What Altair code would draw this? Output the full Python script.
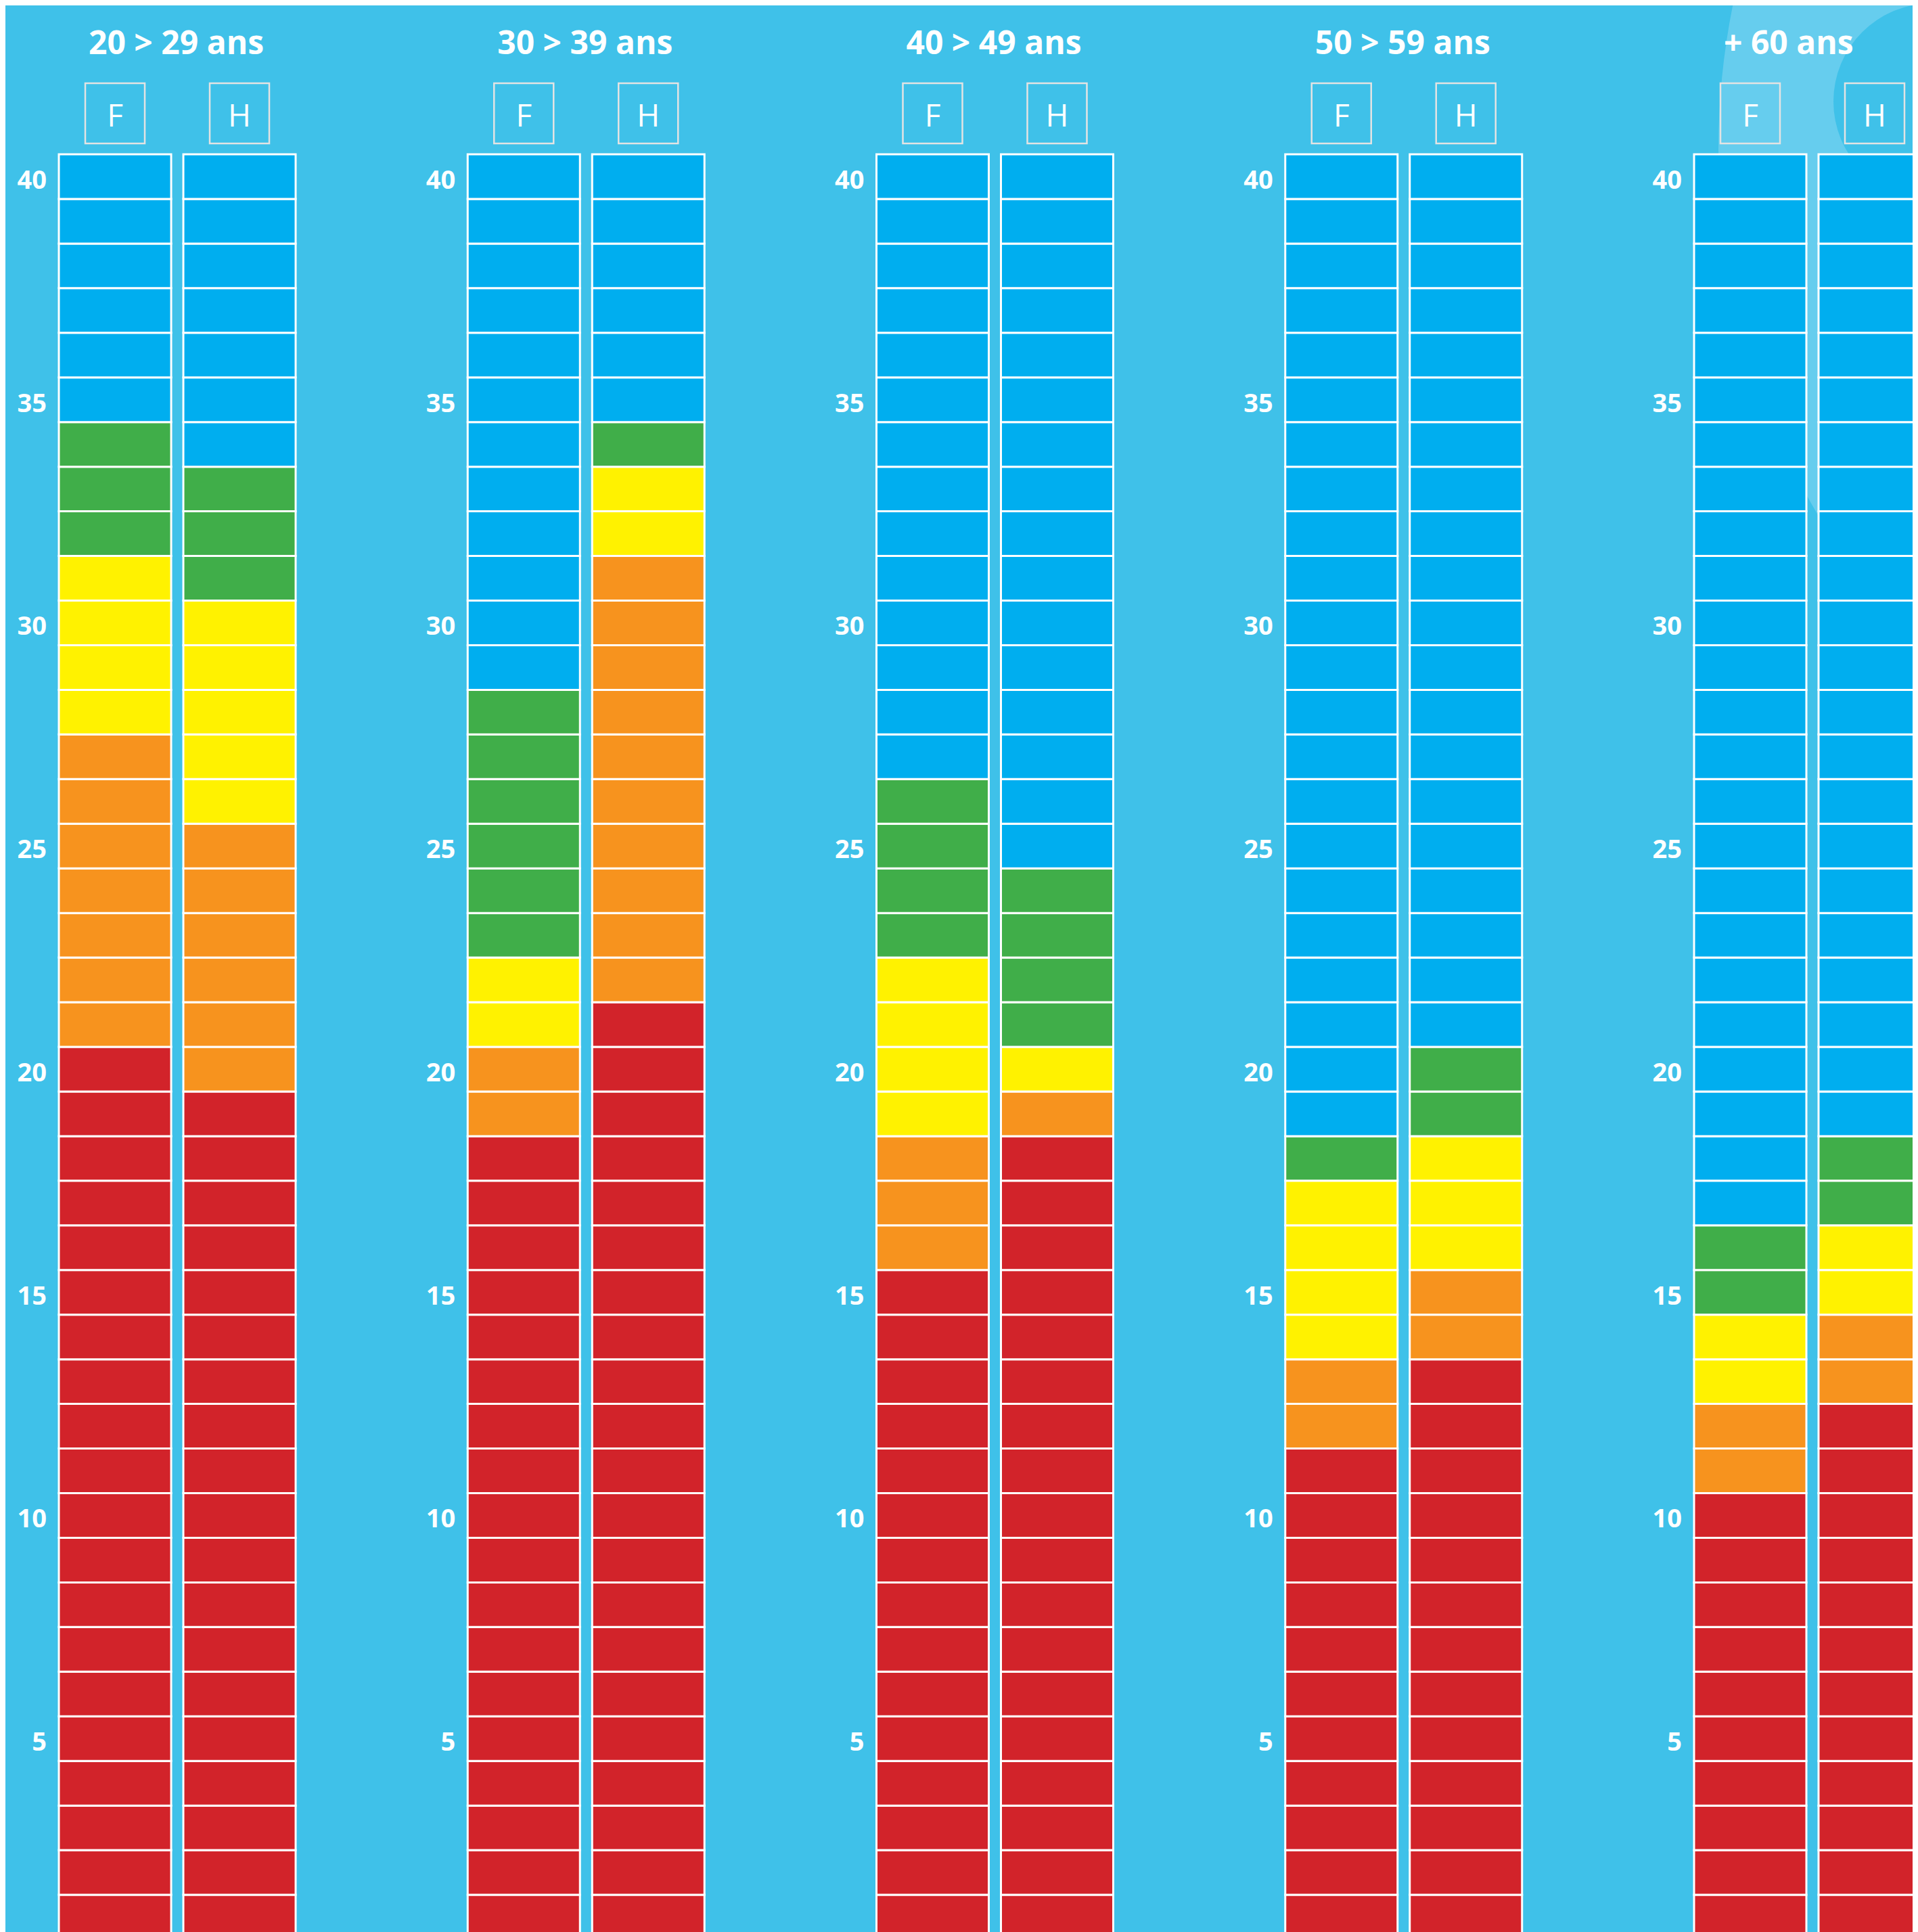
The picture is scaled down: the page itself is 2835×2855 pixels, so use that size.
import altair as alt
import pandas as pd

# ------------------------------------------------------------------ data
age_groups = ["20 > 29 ans", "30 > 39 ans", "40 > 49 ans", "50 > 59 ans", "+ 60 ans"]
sexes = ["F", "H"]
levels = ["rouge", "orange", "jaune", "vert", "bleu"]
level_colors = ["#D2232A", "#F7931E", "#FFF200", "#40AE49", "#00AEEF"]
n_cells = 40
tick_values = [5, 10, 15, 20, 25, 30, 35, 40]

# highest cell of each band (red, orange, yellow, green); blue goes up to 40
f_red = [20, 18, 15, 11, 10]
f_orange = [27, 20, 18, 13, 12]
f_yellow = [31, 22, 22, 17, 14]
f_green = [34, 28, 26, 18, 16]
h_red = [19, 21, 18, 13, 12]
h_orange = [25, 31, 19, 15, 14]
h_yellow = [30, 33, 20, 18, 16]
h_green = [33, 34, 24, 20, 18]

# ------------------------------------------------------------------ layout
BG = "#3FC1E9"
RING = "#66CDEE"
W, H = 2819, 2847            # chart size in px
GROUP_PX = 604.25            # px per x unit (one age group)
CELL_PX = 65.95              # px per y unit (one cell)
X0_PX, TOP_PX = 87 - 8, 228 - 8   # left of first column / top of column in chart px
COL_W = 166 / GROUP_PX
COL_STEP = 184 / GROUP_PX


def ux(px):
    return (px - X0_PX) / GROUP_PX


def uy(px):
    return n_cells + (TOP_PX - px) / CELL_PX


xs = alt.Scale(domain=[ux(0), ux(W)], nice=False, zero=False)
ys = alt.Scale(domain=[uy(H), uy(0)], nice=False, zero=False)

thresholds = {
    "F": list(zip(f_red, f_orange, f_yellow, f_green)),
    "H": list(zip(h_red, h_orange, h_yellow, h_green)),
}

rows = []
for g, grp in enumerate(age_groups):
    for s, sex in enumerate(sexes):
        t = thresholds[sex][g]
        for k in range(1, n_cells + 1):
            lvl = next((levels[i] for i, top in enumerate(t) if k <= top), "bleu")
            x0 = g + s * COL_STEP
            rows.append(dict(groupe=grp, sexe=sex, cell=k, niveau=lvl,
                             x0=x0, x1=x0 + COL_W, y0=k - 1, y1=k))
cells_df = pd.DataFrame(rows)

sex_rows = []
for g, grp in enumerate(age_groups):
    for s, sex in enumerate(sexes):
        xc = g + s * COL_STEP + COL_W / 2
        sex_rows.append(dict(groupe=grp, sexe=sex, xc=xc,
                             bx0=xc - 44 / GROUP_PX, bx1=xc + 44 / GROUP_PX,
                             by0=uy(212 - 8), by1=uy(123 - 8), ty=uy(187 - 8)))
sex_df = pd.DataFrame(sex_rows)

title_df = pd.DataFrame({
    "groupe": age_groups,
    "x": [g + 44 / GROUP_PX for g in range(len(age_groups))],
    "y": [uy(80 - 8)] * len(age_groups),
})

tick_df = pd.DataFrame([
    dict(groupe=grp, label=str(v), x=g - 18 / GROUP_PX, y=v - 0.77)
    for g, grp in enumerate(age_groups) for v in tick_values
])

ring_df = pd.DataFrame({
    "cx": [ux(3609 - 8), ux(2855 - 8)],
    "cy": [uy(220 - 8), uy(150 - 8)],
})

X = lambda f: alt.X(f, type="quantitative", scale=xs, axis=None)
Y = lambda f: alt.Y(f, type="quantitative", scale=ys, axis=None)

outer = alt.Chart(ring_df.iloc[[0]]).mark_arc(
    radius=1069, theta=0, theta2=6.2832, color=RING, clip=True
).encode(x=X("cx"), y=Y("cy"))

inner = alt.Chart(ring_df.iloc[[1]]).mark_arc(
    radius=145, theta=0, theta2=6.2832, color=BG, clip=True
).encode(x=X("cx"), y=Y("cy"))

cells = alt.Chart(cells_df).mark_rect(stroke="white", strokeWidth=3, clip=True).encode(
    x=X("x0"), x2="x1", y=Y("y0"), y2="y1",
    color=alt.Color("niveau:N", scale=alt.Scale(domain=levels, range=level_colors), legend=None),
)

boxes = alt.Chart(sex_df).mark_rect(filled=False, stroke="#E3E3E3", strokeWidth=2.5).encode(
    x=X("bx0"), x2="bx1", y=Y("by0"), y2="by1"
)

sex_text = alt.Chart(sex_df).mark_text(
    font="Open Sans", fontSize=46, fontWeight="normal", color="white",
    align="center", baseline="alphabetic"
).encode(x=X("xc"), y=Y("ty"), text="sexe:N")

titles = alt.Chart(title_df).mark_text(
    font="Open Sans", fontSize=48, fontWeight="bold", color="white",
    align="left", baseline="alphabetic"
).encode(x=X("x"), y=Y("y"), text="groupe:N")

ticks = alt.Chart(tick_df).mark_text(
    font="Open Sans", fontSize=38, fontWeight="bold", color="white",
    align="right", baseline="alphabetic", clip=True
).encode(x=X("x"), y=Y("y"), text="label:N")

chart = alt.layer(outer, inner, cells, boxes, sex_text, titles, ticks).properties(
    width=W, height=H, background=BG, padding=0,
    autosize=alt.AutoSizeParams(type="fit", contains="padding"),
).configure_view(strokeWidth=0)

chart.save("out.html", embed_options={"renderer": "svg", "actions": False})
